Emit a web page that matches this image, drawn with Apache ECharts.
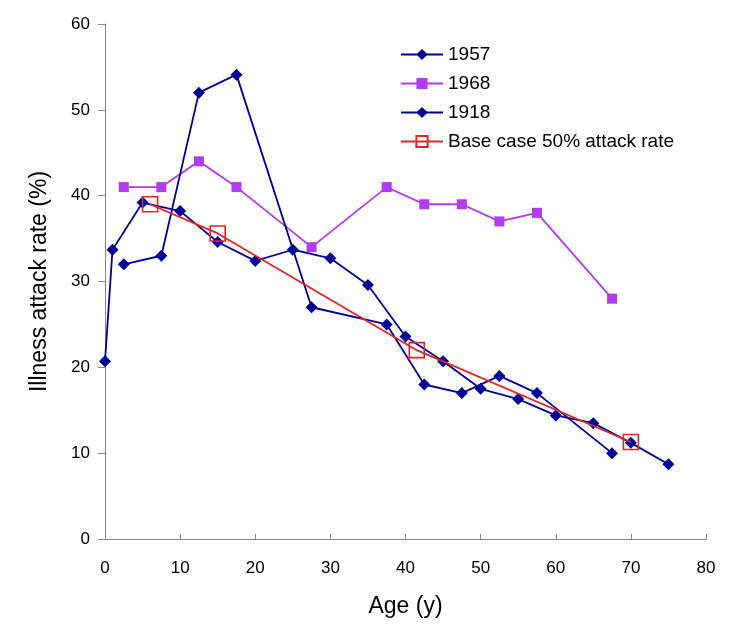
<!DOCTYPE html>
<html>
<head>
<meta charset="utf-8">
<script src="https://cdn.jsdelivr.net/npm/echarts@6/dist/echarts.min.js"></script>
<style>html,body{margin:0;padding:0;background:#fff}#c{width:750px;height:637px}</style>
</head>
<body>
<div id="c"></div>
<script>
// Data
const ages1957 = [2.5, 7.5, 12.5, 17.5, 27.5, 37.5, 42.5, 47.5, 52.5, 57.5, 67.5];
const rate1957 = [32, 33, 52, 54.1, 27, 25, 18, 17, 19, 17, 10];
const ages1968 = [2.5, 7.5, 12.5, 17.5, 27.5, 37.5, 42.5, 47.5, 52.5, 57.5, 67.5];
const rate1968 = [41, 41, 44, 41, 34, 41, 39, 39, 37, 38, 28];
const ages1918 = [0, 1, 5, 10, 15, 20, 25, 30, 35, 40, 45, 50, 55, 60, 65, 70, 75];
const rate1918 = [20.7, 33.7, 39.2, 38.2, 34.6, 32.4, 33.7, 32.7, 29.6, 23.6, 20.7, 17.5, 16.3, 14.4, 13.5, 11.2, 8.7];
const agesBase = [6, 15, 41.5, 70];
const rateBase = [39, 35.6, 22, 11.3];
const seriesNames = ['1957', '1968', '1918', 'Base case 50% attack rate'];
const xTicks = {min: 0, max: 80, interval: 10};
const yTicks = {min: 0, max: 60, interval: 10};

const zip = (a, b) => a.map((v, i) => [v, b[i]]);
const FONT = 'Liberation Sans, Arial, sans-serif';
const BLUE = '#000099';
const PURPLE = '#b43cf0';
const RED = '#e0262a';

const chart = echarts.init(document.getElementById('c'), null, {renderer: 'canvas'});
chart.setOption({
  animation: false,
  backgroundColor: '#fff',
  grid: {left: 105, right: 44, top: 24, bottom: 98, containLabel: false},
  legend: {
    orient: 'vertical', left: 400, top: 45, itemGap: 10, padding: 0,
    itemWidth: 42, itemHeight: 14,
    textStyle: {fontFamily: FONT, fontSize: 19, color: '#000'},
    data: seriesNames
  },
  xAxis: {
    type: 'value', min: xTicks.min, max: xTicks.max, interval: xTicks.interval,
    name: 'Age (y)', nameLocation: 'middle', nameGap: 56,
    nameTextStyle: {fontFamily: FONT, fontSize: 23, color: '#000'},
    axisLine: {show: true, lineStyle: {color: '#888', width: 1}},
    axisTick: {show: true, inside: true, length: 5, lineStyle: {color: '#888'}},
    axisLabel: {fontFamily: FONT, fontSize: 17, color: '#000', margin: 21},
    splitLine: {show: false}
  },
  yAxis: {
    type: 'value', min: yTicks.min, max: yTicks.max, interval: yTicks.interval,
    name: 'Illness attack rate (%)', nameLocation: 'middle', nameGap: 54, nameRotate: 90,
    nameTextStyle: {fontFamily: FONT, fontSize: 23, color: '#000'},
    axisLine: {show: true, lineStyle: {color: '#888', width: 1}},
    axisTick: {show: true, inside: false, length: 7, lineStyle: {color: '#888'}},
    axisLabel: {fontFamily: FONT, fontSize: 17, color: '#000', margin: 15},
    splitLine: {show: false}
  },
  series: [
    {
      name: seriesNames[0], type: 'line', data: zip(ages1957, rate1957),
      symbol: 'diamond', symbolSize: 12,
      lineStyle: {color: BLUE, width: 1.8}, itemStyle: {color: BLUE}, z: 3
    },
    {
      name: seriesNames[1], type: 'line', data: zip(ages1968, rate1968),
      symbol: 'rect', symbolSize: 10,
      lineStyle: {color: PURPLE, width: 1.8}, itemStyle: {color: PURPLE}, z: 2
    },
    {
      name: seriesNames[2], type: 'line', data: zip(ages1918, rate1918),
      symbol: 'diamond', symbolSize: 12,
      lineStyle: {color: BLUE, width: 1.8}, itemStyle: {color: BLUE}, z: 3
    },
    {
      name: seriesNames[3], type: 'line', data: zip(agesBase, rateBase),
      symbol: 'rect', symbolSize: 15,
      lineStyle: {color: RED, width: 1.8},
      itemStyle: {color: 'rgba(255,255,255,0)', borderColor: RED, borderWidth: 1.6}, z: 4
    }
  ]
});
</script>
</body>
</html>
